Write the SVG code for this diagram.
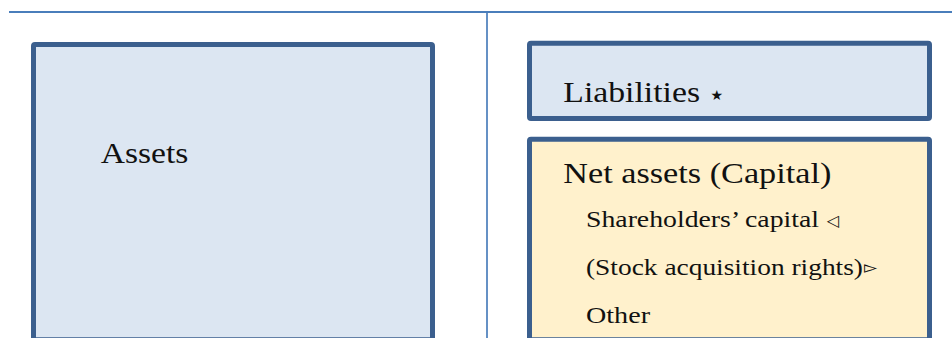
<svg xmlns="http://www.w3.org/2000/svg" width="952" height="338" viewBox="0 0 952 338">
<style>
.box{stroke:#3B5F8E;stroke-width:5}
.blue{fill:#DCE6F2}
.yellow{fill:#FFF1CC}
.t{font-family:"Liberation Serif","DejaVu Serif",serif;fill:#111}
.big{font-size:30px}
.small{font-size:22.5px}
.sym{font-family:"DejaVu Sans",sans-serif;fill:#111}
</style>
<rect width="952" height="338" fill="#FFFFFF"/>
<g id="connectors">
<line x1="9" y1="12" x2="952" y2="12" stroke="#4A7EBB" stroke-width="2.2"/>
<line x1="487" y1="12" x2="487" y2="338" stroke="#4A7EBB" stroke-width="1.7"/>
</g>
<g id="assets">
<rect class="box blue" x="33.5" y="44.5" width="399" height="295.3" rx="1.5"/>
<text class="t big" x="100.7" y="163.3" textLength="87.7" lengthAdjust="spacingAndGlyphs">Assets</text>
</g>
<g id="liabilities">
<rect class="box blue" x="529.5" y="43.2" width="400" height="75.3" rx="1.5"/>
<text class="t big" x="563.3" y="102.3"><tspan textLength="136.7" lengthAdjust="spacingAndGlyphs">Liabilities</tspan><tspan class="sym" x="710.5" y="99.5" font-size="14">★</tspan></text>
</g>
<g id="net-assets">
<rect class="box yellow" x="529.5" y="139.3" width="400" height="200.5" rx="1.5"/>
<text class="t big" x="563.3" y="183.3" textLength="268" lengthAdjust="spacingAndGlyphs">Net assets (Capital)</text>
<text class="t small" x="586" y="227"><tspan textLength="233" lengthAdjust="spacingAndGlyphs">Shareholders’ capital</tspan><tspan class="sym" x="827" y="226" font-size="16">◁</tspan></text>
<text class="t small" x="586" y="275"><tspan textLength="277" lengthAdjust="spacingAndGlyphs">(Stock acquisition rights)</tspan><tspan class="sym" x="864" y="273" font-size="17">▻</tspan></text>
<text class="t small" x="586" y="322.7" textLength="64" lengthAdjust="spacingAndGlyphs">Other</text>
</g>
</svg>
